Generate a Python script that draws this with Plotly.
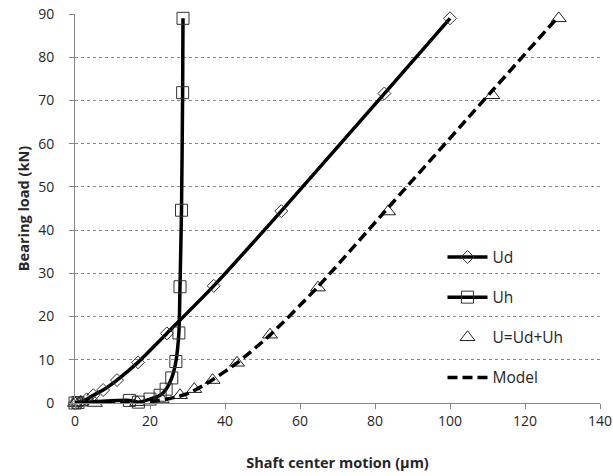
import plotly.graph_objects as go

# Ud (diamonds)
ud_x = [0, 0.5, 1.5, 3.1, 4.9, 7.5, 11.2, 16.8, 24.5, 37, 55, 82.5, 100]
ud_y = [0, 0.1, 0.3, 0.85, 1.8, 3.0, 5.3, 9.4, 16.1, 27.1, 44.4, 71.6, 89]

# Uh (squares)
uh_x = [0, 0.8, 14.5, 16.9, 20, 22.7, 24.3, 25.8, 26.9, 27.7, 28.0, 28.4, 28.7, 28.8]
uh_y = [0, 0.1, 0.6, 0.2, 0.9, 1.8, 3.2, 5.8, 9.6, 16.2, 26.9, 44.6, 71.8, 89]

# U = Ud + Uh (triangles)
u_x = [0, 1.5, 5.3, 16.6, 23.1, 28.0, 31.8, 36.7, 43.2, 52.0, 64.8, 83.5, 111.3, 129.0]
u_y = [0, 0.1, 0.0, 0.2, 0.8, 1.8, 3.2, 5.3, 9.3, 15.8, 26.7, 44.3, 71.2, 89]

# Model (dashed)
m_x = [0, 15, 20, 25, 27.5, 30.2, 35.1, 43.1, 52, 64.8, 82.2, 110.7, 128.5]
m_y = [0, 0, 0.3, 1.0, 1.5, 2.2, 4.5, 9.2, 15.7, 26.9, 43.9, 71.7, 89]

FONT = "Open Sans"
TXT = "#262626"

fig = go.Figure()
fig.add_trace(go.Scatter(
    x=ud_x, y=ud_y, name="Ud", mode="lines+markers",
    line=dict(color="black", width=3.5, shape="spline", smoothing=0.6),
    marker=dict(symbol="diamond-open", size=10, color="#333333", line=dict(width=1)),
    legendgroup="a", cliponaxis=False))
fig.add_trace(go.Scatter(
    x=uh_x, y=uh_y, name="Uh", mode="lines+markers",
    line=dict(color="black", width=3.5, shape="spline", smoothing=0.6),
    marker=dict(symbol="square-open", size=12, color="#333333", line=dict(width=1)),
    legendgroup="b", cliponaxis=False))
fig.add_trace(go.Scatter(
    x=u_x, y=u_y, name="U=Ud+Uh", mode="markers",
    marker=dict(symbol="triangle-up-open", size=13, color="#222222", line=dict(width=1)),
    legendgroup="c", cliponaxis=False))
fig.add_trace(go.Scatter(
    x=m_x, y=m_y, name="Model", mode="lines",
    line=dict(color="black", width=3.5, dash="10px,5px", shape="spline", smoothing=0.6),
    legendgroup="d", cliponaxis=False))

fig.update_layout(
    width=613, height=476,
    margin=dict(l=75, r=13, t=14, b=73),
    paper_bgcolor="white", plot_bgcolor="white",
    font=dict(family=FONT, size=14, color=TXT),
    showlegend=True,
    legend=dict(x=0.70, y=0.22, xanchor="left", yanchor="middle",
                bgcolor="rgba(0,0,0,0)", tracegroupgap=17,
                font=dict(family=FONT, size=15.5, color=TXT), itemwidth=40),
    xaxis=dict(range=[0, 140], tickvals=[0, 20, 40, 60, 80, 100, 120, 140],
               automargin=False, ticklabeloverflow="allow",
               showgrid=False, zeroline=False, showline=True, linecolor="#868686",
               linewidth=1, ticks="outside", ticklen=5, tickcolor="#868686",
               title=dict(text="<b>Shaft center motion (µm)</b>", standoff=29,
                          font=dict(family=FONT, size=14.5, color=TXT))),
    yaxis=dict(range=[0, 90], tickvals=[0, 10, 20, 30, 40, 50, 60, 70, 80, 90],
               automargin=False, ticklabeloverflow="allow",
               showgrid=True, gridcolor="#888888", griddash="3px,3px", gridwidth=1,
               zeroline=False, showline=True, linecolor="#868686", linewidth=1,
               ticks="outside", ticklen=5, tickcolor="#868686",
               ticklabelstandoff=12,
               title=dict(text="<b>Bearing load (kN)</b>", standoff=5,
                          font=dict(family=FONT, size=14.5, color=TXT))),
)

fig.write_html(
    "out.html",
    config={"displayModeBar": False},
    post_script="document.body.style.margin='0px';document.body.style.overflow='hidden';",
)
